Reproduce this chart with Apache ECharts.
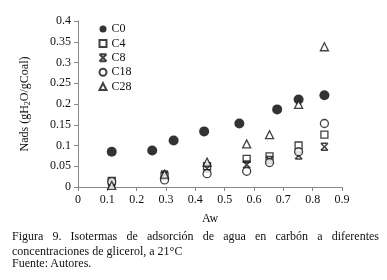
<!DOCTYPE html>
<html>
<head>
<meta charset="utf-8">
<script src="https://cdn.jsdelivr.net/npm/echarts@6/dist/echarts.min.js"></script>
<style>
  body { margin: 0; background: #fff; }
  #wrap { position: relative; width: 387px; height: 280px; }
  #chart { position: absolute; left: 0; top: 0; width: 387px; height: 280px; }
  .cap { position: absolute; left: 12px; font-family: "Liberation Serif", "Times New Roman", serif; font-size: 12px; line-height: 14px; color: #111; white-space: nowrap; }
  #l1 { width: 367px; text-align: justify; text-align-last: justify; white-space: normal; }
</style>
</head>
<body>
<div id="wrap">
  <div id="chart"></div>
  <div class="cap" id="l1" style="top:229px">Figura 9. Isotermas de adsorción de agua en carbón a diferentes</div>
  <div class="cap" style="top:244px">concentraciones de glicerol, a 21°C</div>
  <div class="cap" style="top:256px">Fuente: Autores.</div>
</div>
<script>
// actividad de agua (Aw) de cada serie
const awC0 = [0.115, 0.253, 0.326, 0.43, 0.55, 0.679, 0.752, 0.84]
const awOthers = [0.115, 0.295, 0.44, 0.575, 0.653, 0.752, 0.84]

// Nads (gH2O/gCoal)
const nadsC0 = [0.085, 0.088, 0.112, 0.134, 0.153, 0.187, 0.211, 0.221]
const nadsC4 = [0.015, 0.026, 0.05, 0.068, 0.074, 0.100, 0.126]
const nadsC8 = [0.010, 0.030, 0.045, 0.054, 0.065, 0.076, 0.097]
const nadsC18 = [0.013, 0.017, 0.032, 0.038, 0.059, 0.085, 0.153]
const nadsC28 = [0.004, 0.031, 0.060, 0.104, 0.126, 0.199, 0.338]

const seriesNames = ['C0', 'C4', 'C8', 'C18', 'C28']

const font = '"Liberation Serif", "Times New Roman", serif'
const ink = '#111'

function pairs (xs, ys) {
  return xs.map((x, i) => [x, ys[i]])
}

const hourglass = 'path://M0,0 L10,0 M0,10 L10,10 M0,0 L10,10 M10,0 L0,10'

const openStyle = { color: '#fff', borderColor: ink, borderWidth: 1.3 }

const myChart = echarts.init(document.getElementById('chart'))
myChart.setOption({
  animation: false,
  grid: { left: 78, right: 45, top: 21, bottom: 93 },
  legend: {
    orient: 'vertical',
    left: 92,
    top: 18,
    itemWidth: 7,
    itemHeight: 7,
    itemGap: 2.4,
    data: seriesNames,
    textStyle: { fontFamily: font, fontSize: 12, lineHeight: 12, color: ink }
  },
  xAxis: {
    type: 'value',
    min: 0,
    max: 0.9,
    interval: 0.1,
    name: 'Aw',
    nameLocation: 'middle',
    nameGap: 26,
    nameTextStyle: { fontFamily: font, fontSize: 12, color: ink },
    axisLine: { lineStyle: { color: '#888' } },
    axisTick: { show: true, length: 4, lineStyle: { color: '#888' } },
    axisLabel: { fontFamily: font, fontSize: 12, color: ink, margin: 7 },
    splitLine: { show: false }
  },
  yAxis: {
    type: 'value',
    min: 0,
    max: 0.4,
    interval: 0.05,
    name: '{n|Nads (gH}{s|2}{n|O/gCoal)}',
    nameLocation: 'middle',
    nameGap: 46,
    nameTextStyle: {
      rich: {
        n: { fontFamily: font, fontSize: 12, color: ink },
        s: { fontFamily: font, fontSize: 8, color: ink, verticalAlign: 'bottom', padding: [6, 0, 0, 0] }
      }
    },
    axisLine: { show: true, lineStyle: { color: '#888' } },
    axisTick: { show: true, length: 4, lineStyle: { color: '#888' } },
    axisLabel: { fontFamily: font, fontSize: 12, color: ink, margin: 7 },
    splitLine: { show: false }
  },
  series: [
    {
      name: 'C0',
      type: 'scatter',
      symbol: 'circle',
      symbolSize: 10,
      itemStyle: { color: '#000' },
      data: pairs(awC0, nadsC0)
    },
    {
      name: 'C4',
      type: 'scatter',
      symbol: 'rect',
      symbolSize: 7,
      itemStyle: openStyle,
      data: pairs(awOthers, nadsC4)
    },
    {
      name: 'C8',
      type: 'scatter',
      symbol: hourglass,
      symbolSize: 7,
      itemStyle: { color: 'none', borderColor: ink, borderWidth: 1.6 },
      data: pairs(awOthers, nadsC8)
    },
    {
      name: 'C18',
      type: 'scatter',
      symbol: 'circle',
      symbolSize: 8,
      itemStyle: openStyle,
      data: pairs(awOthers, nadsC18)
    },
    {
      name: 'C28',
      type: 'scatter',
      symbol: 'triangle',
      symbolSize: 8,
      itemStyle: openStyle,
      data: pairs(awOthers, nadsC28)
    }
  ]
})
</script>
</body>
</html>
